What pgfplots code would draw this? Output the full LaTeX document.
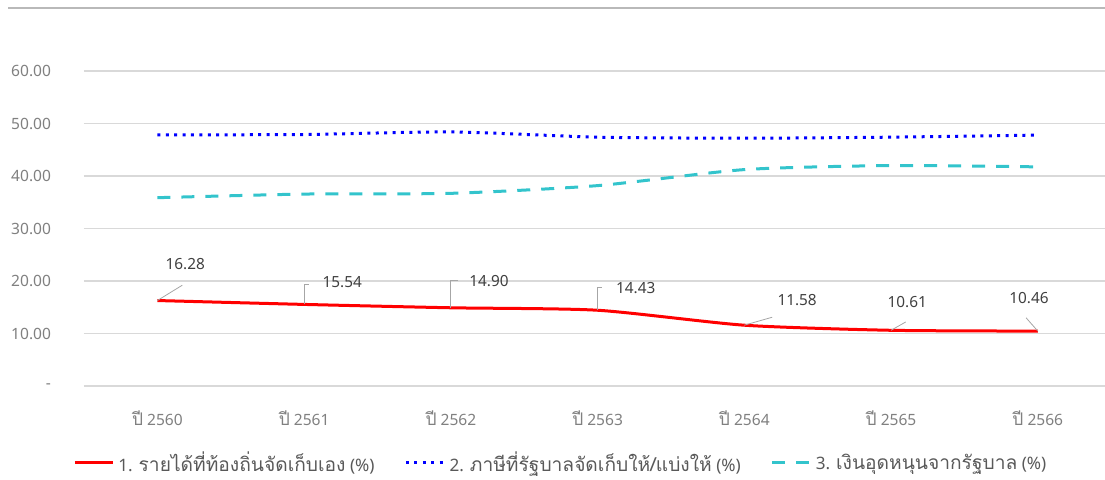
\documentclass[border=0pt]{standalone}
\usepackage{pgfplots}
\pgfplotsset{compat=1.18}
\usepackage{fontspec}
\setmainfont{Noto Sans}
\newfontfamily\thaifont[Script=Thai,Scale=1.12]{Loma}
\definecolor{gridgray}{RGB}{217,217,217}
\definecolor{tickgray}{RGB}{128,128,128}
\definecolor{labgray}{RGB}{64,64,64}
\definecolor{leggray}{RGB}{89,89,89}
\definecolor{leadgray}{RGB}{166,166,166}
\definecolor{myred}{RGB}{255,0,0}
\definecolor{myblue}{RGB}{0,0,255}
\definecolor{myteal}{RGB}{51,196,204}
\begin{document}
\begin{tikzpicture}
\path[use as bounding box] (0,0) rectangle (552.5bp,240bp);
\draw[color=gray!55, line width=0.6bp] (4bp,236bp) -- (552.5bp,236bp);
\begin{axis}[
  at={(42bp,47bp)}, anchor=south west,
  scale only axis, width=510.5bp, height=157.5bp,
  xmin=-0.5, xmax=6.458, ymin=0, ymax=60,
  xtick={0,...,6},
  xticklabels={{\thaifont ปี} 2560,{\thaifont ปี} 2561,{\thaifont ปี} 2562,{\thaifont ปี} 2563,{\thaifont ปี} 2564,{\thaifont ปี} 2565,{\thaifont ปี} 2566},
  ytick={0,10,20,30,40,50,60},
  yticklabels={-\hspace{5.5bp},10.00,20.00,30.00,40.00,50.00,60.00},
  ymajorgrids, grid style={color=gridgray, line width=0.6bp},
  axis line style={draw=none}, major tick length=0pt, tick style={draw=none},
  tick label style={font=\fontsize{7.8}{9}\selectfont, text=tickgray},
  yticklabel style={xshift=-13bp},
  xticklabel style={yshift=-9bp},
  clip=false,
  legend columns=3,
  legend style={draw=none, fill=none, at={(0.468,-0.244)}, anchor=center,
    font=\fontsize{8.6}{10}\selectfont, text=leggray,
    /tikz/every even column/.append style={column sep=13bp}},
  legend image code/.code={\draw[#1] (0bp,0bp) -- (19bp,0bp);},
]
\addplot[myred, line width=1.5bp, smooth, tension=0.4] coordinates {
 (0,16.28) (1,15.54) (2,14.90) (3,14.43) (4,11.58) (5,10.61) (6,10.46)};
\addlegendentry{1. {\thaifont รายได้ที่ท้องถิ่นจัดเก็บเอง} (\%)}
\addplot[myblue, line width=1.5bp, dash pattern=on 1.5bp off 2.7bp, smooth, tension=0.4] coordinates {
 (0,47.85) (1,47.90) (2,48.40) (3,47.40) (4,47.20) (5,47.40) (6,47.80)};
\addlegendentry{2. {\thaifont ภาษีที่รัฐบาลจัดเก็บให้/แบ่งให้} (\%)}
\addplot[myteal, line width=1.5bp, dash pattern=on 6.5bp off 5.5bp, smooth, tension=0.4] coordinates {
 (0,35.87) (1,36.56) (2,36.70) (3,38.17) (4,41.22) (5,41.99) (6,41.74)};
\addlegendentry{3. {\thaifont เงินอุดหนุนจากรัฐบาล} (\%)}
% leader lines
\draw[leadgray, line width=0.4bp] (axis cs:0,16.28) -- (axis cs:0.17,19.2);
\draw[leadgray, line width=0.4bp] (axis cs:1,15.54) -- (axis cs:1,19.4) -- (axis cs:1.03,19.4);
\draw[leadgray, line width=0.4bp] (axis cs:2,14.90) -- (axis cs:2,20.2) -- (axis cs:2.05,20.2);
\draw[leadgray, line width=0.4bp] (axis cs:3,14.43) -- (axis cs:3,18.7) -- (axis cs:3.03,18.7);
\draw[leadgray, line width=0.4bp] (axis cs:4,11.58) -- (axis cs:4.19,13.1);
\draw[leadgray, line width=0.4bp] (axis cs:5,10.61) -- (axis cs:5.10,12.2);
\draw[leadgray, line width=0.4bp] (axis cs:6,10.46) -- (axis cs:5.92,13.0);
% data labels
\begin{scope}[every node/.style={font=\fontsize{7.7}{9}\selectfont, text=labgray, inner sep=0pt}]
\node at (axis cs:0.19,23.2) {16.28};
\node at (axis cs:1.26,19.8) {15.54};
\node at (axis cs:2.26,20.0) {14.90};
\node at (axis cs:3.26,18.7) {14.43};
\node at (axis cs:4.36,16.4) {11.58};
\node at (axis cs:5.11,16.0) {10.61};
\node at (axis cs:5.94,16.8) {10.46};
\end{scope}
\end{axis}
\end{tikzpicture}
\end{document}
